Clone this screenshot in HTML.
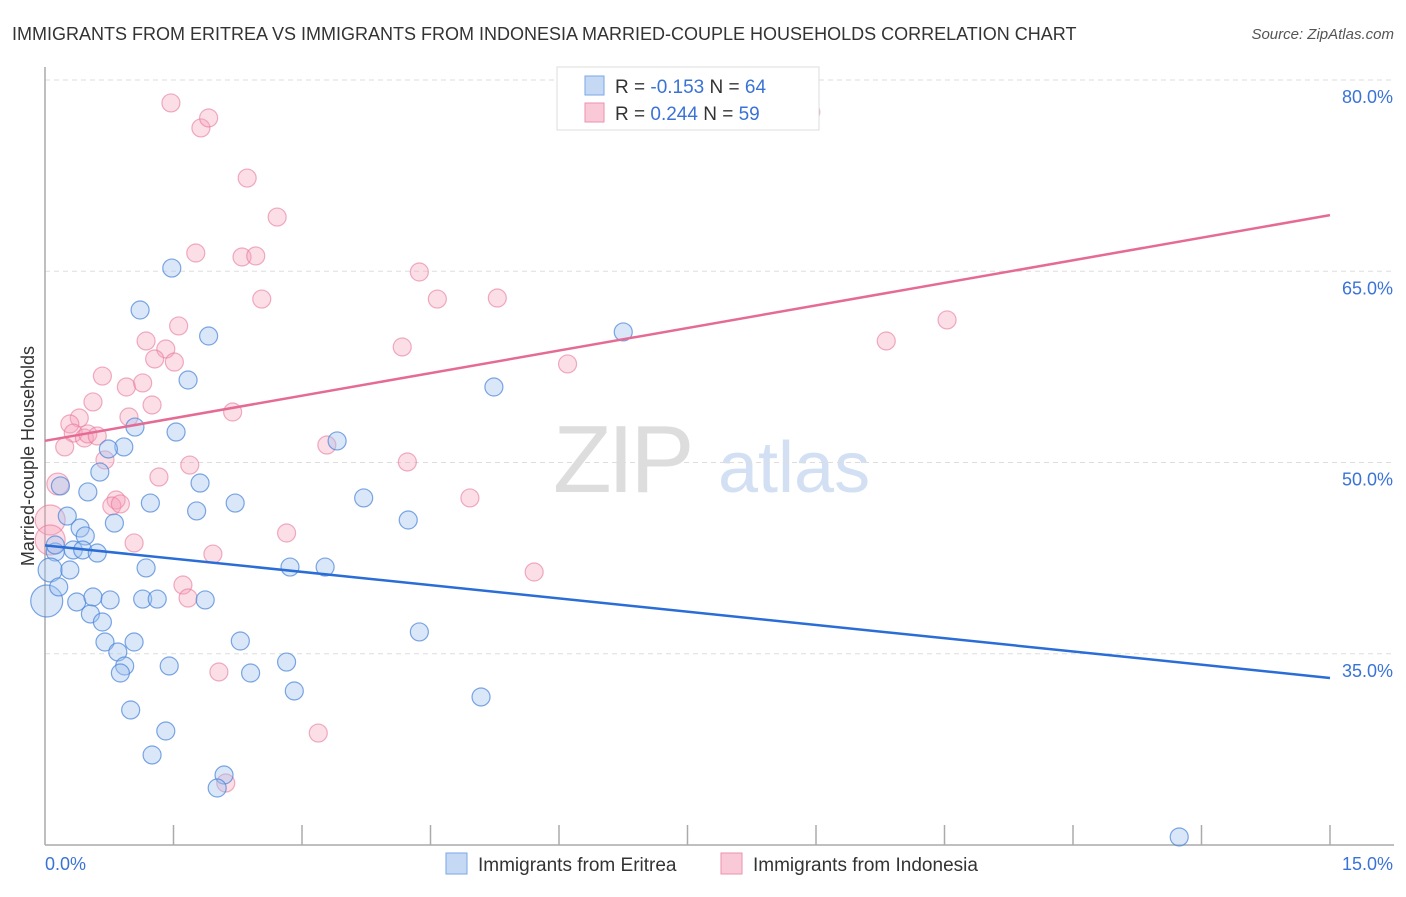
<!DOCTYPE html>
<html><head><meta charset="utf-8"><style>
body{margin:0;background:#fff;font-family:"Liberation Sans",sans-serif}
svg text{font-family:"Liberation Sans",sans-serif}
</style></head><body>
<svg id="chart" width="1406" height="892" xmlns="http://www.w3.org/2000/svg">
<text x="12" y="40" font-size="18" fill="#333">IMMIGRANTS FROM ERITREA VS IMMIGRANTS FROM INDONESIA MARRIED-COUPLE HOUSEHOLDS CORRELATION CHART</text>
<text x="1394" y="39" font-size="15" fill="#555" font-style="italic" text-anchor="end">Source: ZipAtlas.com</text>
<g>
<text x="553" y="492" font-size="96" fill="#ddd" font-family="Liberation Serif" letter-spacing="-4">ZIP</text>
<text x="718" y="492" font-size="72" fill="#d3e0f3">atlas</text>
</g>
<g id="grid"></g>
<g id="axes"></g>
<g id="pts"></g>
<g id="lines"></g>
<text transform="translate(34,456) rotate(-90)" font-size="18" fill="#333" text-anchor="middle">Married-couple Households</text>
<g>
<rect x="557" y="67" width="262" height="63" fill="#fff" stroke="#ddd"/>
<rect x="585" y="76" width="19" height="19" fill="#c5d9f5" stroke="#7aa6e6"/>
<rect x="585" y="103" width="19" height="19" fill="#fac9d7" stroke="#eb92ad"/>
<text x="615" y="93" font-size="19" fill="#333">R = <tspan fill="#3a73d6">-0.153</tspan>   N = <tspan fill="#3a73d6">64</tspan></text>
<text x="615" y="120" font-size="19" fill="#333">R =  <tspan fill="#3a73d6">0.244</tspan>   N = <tspan fill="#3a73d6">59</tspan></text>
</g>
<g>
<rect x="446" y="853" width="21" height="21" fill="#c5d9f5" stroke="#7aa6e6"/>
<text x="478" y="871" font-size="19" fill="#333">Immigrants from Eritrea</text>
<rect x="721" y="853" width="21" height="21" fill="#fac9d7" stroke="#eb92ad"/>
<text x="753" y="871" font-size="19" fill="#333">Immigrants from Indonesia</text>
</g>
</svg>
<script>
const yTicks=[80,65,50,35];
const yTickLabels=["80.0%","65.0%","50.0%","35.0%"];
const xTickLabels=["0.0%","15.0%"];
const blueX=[1.48,1.11,1.91,1.67,6.75,5.24,3.41,1.05,0.92,0.74,1.53,0.64,0.18,0.50,1.23,1.81,1.77,2.22,3.72,4.24,0.26,0.41,0.81,0.47,0.12,0.33,0.44,0.61,0.06,0.29,1.18,2.86,3.27,0.02,0.16,0.37,0.56,0.76,1.14,1.31,1.87,0.53,0.67,0.70,1.04,0.85,2.28,4.37,0.93,0.88,1.45,2.40,2.82,2.91,1.00,1.41,1.25,5.09,2.09,2.01,13.24,0.12];
const blueY=[65.25,61.96,59.92,56.47,60.24,55.92,51.69,52.78,51.22,51.06,52.39,49.25,48.16,47.69,46.82,48.39,46.20,46.82,47.22,45.49,45.80,44.86,45.25,44.24,42.98,43.14,43.14,42.90,41.57,41.57,41.73,41.80,41.80,39.14,40.24,39.06,39.45,39.22,39.29,39.29,39.22,38.12,37.49,35.92,35.92,35.14,36.00,36.71,34.04,33.49,34.04,33.49,34.35,32.08,30.59,28.94,27.06,31.61,25.49,24.47,20.63,43.53];
const blueR=[9,9,9,9,9,9,9,9,9,9,9,9,9,9,9,9,9,9,9,9,9,9,9,9,9,9,9,9,12,9,9,9,9,16,9,9,9,9,9,9,9,9,9,9,9,9,9,9,9,9,9,9,9,9,9,9,9,9,9,9,9,9];
const pinkX=[1.47,1.82,1.91,2.36,2.71,1.76,2.30,2.46,2.53,4.37,4.58,5.28,8.94,10.53,9.82,1.56,1.18,1.41,1.51,1.28,0.67,0.95,1.14,1.25,0.56,0.40,0.29,0.98,2.19,4.17,6.10,0.33,0.46,0.50,0.61,0.23,0.70,3.29,4.23,1.69,1.33,0.15,0.83,0.78,0.88,4.96,0.06,0.06,2.82,1.04,1.96,1.61,1.67,5.71,2.03,3.19,2.11];
const pinkY=[78.20,76.24,77.02,72.31,69.25,66.43,66.12,66.20,62.82,64.94,62.82,62.90,77.49,61.18,59.53,60.71,59.53,58.90,57.88,58.12,56.78,55.92,56.24,54.51,54.75,53.49,53.02,53.57,53.96,59.06,57.73,52.31,51.92,52.24,52.08,51.22,50.20,51.37,50.04,49.80,48.86,48.31,47.06,46.59,46.75,47.22,45.49,43.92,44.47,43.69,42.82,40.39,39.37,41.41,33.57,28.78,24.86];
const pinkR=[9,9,9,9,9,9,9,9,9,9,9,9,9,9,9,9,9,9,9,9,9,9,9,9,9,9,9,9,9,9,9,9,9,9,9,9,9,9,9,9,9,11,9,9,9,9,15,15,9,9,9,9,9,9,9,9,9];
const blueLine=[43.5,33.1];
const pinkLine=[51.7,69.4];
const NS="http://www.w3.org/2000/svg";
const X0=45,X1=1330,Y0=845,Y1=80,XMIN=0,XMAX=15,YMIN=20,YMAX=80;
const sx=v=>X0+(v-XMIN)/(XMAX-XMIN)*(X1-X0);
const sy=v=>Y0-(v-YMIN)/(YMAX-YMIN)*(Y0-Y1);
function mk(tag,attrs,parent){const e=document.createElementNS(NS,tag);for(const k in attrs)e.setAttribute(k,attrs[k]);parent.appendChild(e);return e;}
const grid=document.getElementById('grid'),axes=document.getElementById('axes'),pts=document.getElementById('pts'),lines=document.getElementById('lines');
yTicks.forEach((t,i)=>{
 const l=mk('line',{x1:X0,x2:1394,y1:sy(t),y2:sy(t),stroke:'#ddd','stroke-dasharray':'5,4'},grid);
 
 
 const tx=mk('text',{x:1393,y:sy(t)+23,'font-size':18,fill:'#3a73d6','text-anchor':'end'},axes);
 tx.textContent=yTickLabels[i];
 
 
});
mk('line',{x1:X0,x2:X0,y1:67,y2:Y0,stroke:'#aaa','stroke-width':1.5},axes);
mk('line',{x1:X0,x2:1394,y1:Y0,y2:Y0,stroke:'#aaa','stroke-width':1.5},axes);
for(let i=1;i<=10;i++){const v=i*1.5;const t=mk('line',{x1:sx(v),x2:sx(v),y1:825,y2:Y0,stroke:'#aaa','stroke-width':1.5},axes);
 
 }
const xl0=mk('text',{x:45,y:870,'font-size':18,fill:'#3a73d6'},axes);xl0.textContent=xTickLabels[0];


const xl1=mk('text',{x:1393,y:870,'font-size':18,fill:'#3a73d6','text-anchor':'end'},axes);xl1.textContent=xTickLabels[1];


pinkX.forEach((v,i)=>{const c=mk('circle',{cx:sx(v),cy:sy(pinkY[i]),r:pinkR[i],fill:'rgba(245,160,185,0.35)',stroke:'rgba(230,120,155,0.6)','stroke-width':1.2},pts);
 
 });
blueX.forEach((v,i)=>{const c=mk('circle',{cx:sx(v),cy:sy(blueY[i]),r:blueR[i],fill:'rgba(160,195,240,0.4)',stroke:'rgba(70,130,215,0.7)','stroke-width':1.2},pts);
 
 });
const bl=mk('line',{x1:sx(0),x2:sx(15),y1:sy(blueLine[0]),y2:sy(blueLine[1]),stroke:'#2a6dd6','stroke-width':2.5},lines);


const pl=mk('line',{x1:sx(0),x2:sx(15),y1:sy(pinkLine[0]),y2:sy(pinkLine[1]),stroke:'#e56b95','stroke-width':2.5},lines);


</script>
</body></html>
